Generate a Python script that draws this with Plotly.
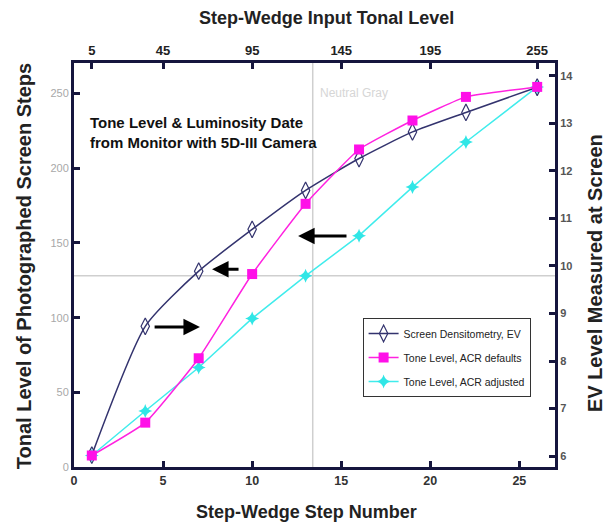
import plotly.graph_objects as go

# ---------------- data ----------------
steps = [1, 4, 7, 10, 13, 16, 19, 22, 26]
screen_ev = [6.02, 8.73, 9.89, 10.77, 11.59, 12.26, 12.82, 13.23, 13.76]
acr_defaults = [7.7, 29.7, 72.8, 129.2, 176.2, 212.6, 232.0, 247.8, 254.5]
acr_adjusted = [7.7, 37.5, 66.6, 99.5, 128.0, 154.9, 187.4, 217.6, 254.5]

top_tick_steps = [1, 5, 10, 15, 20, 26]
top_tick_labels = ["5", "45", "95", "145", "195", "255"]
bottom_ticks = [0, 5, 10, 15, 20, 25]
left_ticks = [0, 50, 100, 150, 200, 250]
right_ticks = [6, 7, 8, 9, 10, 11, 12, 13, 14]

neutral_gray_level = 128
neutral_gray_step = 13.4

# ---------------- styling ----------------
AXIS_COLOR = "#16163e"
FONT = "Liberation Sans, Arial, sans-serif"
TITLE_FONT = dict(family=FONT, size=18, color="#222222", weight="bold")

fig = go.Figure()

# EV series on the main (right-side) axis, drawn first
fig.add_trace(go.Scatter(
    x=steps, y=screen_ev, xaxis="x", yaxis="y",
    mode="lines+markers", name="Screen Densitometry, EV",
    line=dict(color="#33336e", width=1.5, shape="spline", smoothing=0.6),
    marker=dict(symbol="diamond-tall-open", size=12, color="#33336e",
                line=dict(width=1.2, color="#33336e")),
    legendrank=1, legendgroup="a",
))
fig.add_trace(go.Scatter(
    x=steps, y=acr_adjusted, xaxis="x", yaxis="y2",
    mode="lines+markers", name="Tone Level, ACR adjusted",
    line=dict(color="#40ecec", width=1.5),
    marker=dict(symbol="star-diamond", size=10, color="#30e6e6"),
    legendrank=3, legendgroup="c",
))
fig.add_trace(go.Scatter(
    x=steps, y=acr_defaults, xaxis="x", yaxis="y2",
    mode="lines+markers", name="Tone Level, ACR defaults",
    line=dict(color="#ff22e0", width=1.5, shape="spline", smoothing=0.4),
    marker=dict(symbol="square", size=10, color="#ff10e8"),
    legendrank=2, legendgroup="b",
))
# transparent carrier so the top (input tonal level) axis is drawn
fig.add_trace(go.Scatter(
    x=steps, y=acr_defaults, xaxis="x2", yaxis="y2", mode="markers",
    marker=dict(opacity=0), showlegend=False, hoverinfo="skip",
))

# neutral gray crosshair
fig.add_shape(type="line", xref="x", yref="paper", x0=neutral_gray_step, x1=neutral_gray_step,
              y0=0, y1=1, line=dict(color="#cfcfcf", width=1.5), layer="below")
fig.add_shape(type="line", xref="paper", yref="y2", x0=0, x1=1,
              y0=neutral_gray_level, y1=neutral_gray_level,
              line=dict(color="#cfcfcf", width=1.5), layer="below")

arrow = dict(xref="x", yref="y2", axref="x", ayref="y2", text="", showarrow=True,
             arrowhead=2, arrowsize=1.1, arrowwidth=3, arrowcolor="#000000")

annotations = [
    dict(x=13.7, y=250.4, xref="x", yref="y2", text="Neutral Gray", showarrow=False,
         xanchor="left", yanchor="middle", font=dict(family=FONT, size=12, color="#d6d6d6")),
    dict(x=0.79, y=238, xref="x", yref="y2",
         text="<b>Tone Level &amp; Luminosity Date<br>from Monitor with 5D-III Camera</b>",
         showarrow=False, xanchor="left", yanchor="top", align="left",
         font=dict(family=FONT, size=15, color="#111111")),
    dict(x=7.07, y=93.7, ax=4.44, ay=93.7, **arrow),
    dict(x=7.75, y=132.4, ax=9.32, ay=132.4, **arrow),
    dict(x=12.58, y=154.7, ax=15.38, ay=154.7, **arrow),
    # axis titles
    dict(x=0.484, y=0, xref="paper", yref="paper", yshift=-45, showarrow=False,
         text="Step-Wedge Step Number", font=TITLE_FONT, xanchor="center", yanchor="middle"),
    dict(x=0.524, y=1, xref="paper", yref="paper", yshift=45, showarrow=False,
         text="Step-Wedge Input Tonal Level", font=TITLE_FONT, xanchor="center", yanchor="middle"),
    dict(x=0, y=0.497, xref="paper", yref="paper", xshift=-50, showarrow=False, textangle=-90,
         text="Tonal Level of Photographed Screen Steps", font=dict(TITLE_FONT, size=20),
         xanchor="center", yanchor="middle"),
    dict(x=1, y=0.48, xref="paper", yref="paper", xshift=40, showarrow=False, textangle=-90,
         text="EV Level Measured at Screen", font=dict(TITLE_FONT, size=20),
         xanchor="center", yanchor="middle"),
]

axis_common = dict(showgrid=False, zeroline=False, showline=True, linecolor=AXIS_COLOR,
                   linewidth=3, ticks="inside", ticklen=6, tickwidth=3, tickcolor=AXIS_COLOR,
                   automargin=False)

fig.update_layout(
    width=608, height=529,
    margin=dict(l=74, r=53, t=63, b=62),
    paper_bgcolor="white", plot_bgcolor="white",
    font=dict(family=FONT),
    showlegend=True,
    legend=dict(x=0.60, y=0.369, xanchor="left", yanchor="top",
                bgcolor="white", bordercolor="#333333", borderwidth=1,
                font=dict(family=FONT, size=10.5, color="#222222"),
                traceorder="grouped", tracegroupgap=5, itemwidth=30),
    xaxis=dict(range=[0, 27], tickvals=bottom_ticks,
               tickfont=dict(family=FONT, size=12.5, color="#333333", weight="bold"),
               **axis_common),
    xaxis2=dict(range=[0, 27], overlaying="x", side="top", anchor="y",
                tickvals=top_tick_steps, ticktext=top_tick_labels,
                tickfont=dict(family=FONT, size=13, color="#222222", weight="bold"),
                **axis_common),
    yaxis=dict(range=[5.77, 14.27], side="right", anchor="x",
               tickvals=right_ticks,
               tickfont=dict(family=FONT, size=11, color="#555555", weight="bold"),
               **axis_common),
    yaxis2=dict(range=[0, 270.5], overlaying="y", side="left", anchor="x",
                tickvals=left_ticks,
                tickfont=dict(family=FONT, size=11, color="#a8a8a8"),
                **axis_common),
    annotations=annotations,
)

fig.write_html("out.html", config={"displayModeBar": False},
               post_script="document.body.style.margin='0';")
